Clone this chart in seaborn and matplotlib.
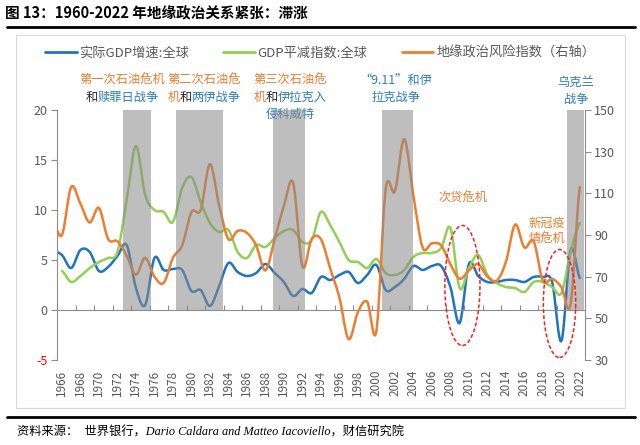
import numpy as np
import matplotlib
matplotlib.use("Agg")
import matplotlib.pyplot as plt
import seaborn as sns
from matplotlib.patches import Ellipse, Rectangle
from matplotlib.lines import Line2D
from matplotlib.offsetbox import TextArea, HPacker, AnnotationBbox

# values
years = list(range(1965, 2023))
gdp_growth = [5.9, 5.5, 4.2, 6.0, 5.8, 3.9, 4.3, 5.4, 6.5, 2.2,
              0.5, 5.2, 4.0, 4.1, 4.0, 1.9, 2.0, 0.4, 2.4, 4.7,
              3.8, 3.4, 3.7, 4.6, 3.7, 2.8, 1.4, 2.1, 1.7, 3.3,
              3.0, 3.5, 3.8, 2.7, 3.5, 4.5, 2.0, 2.3, 3.1, 4.4,
              4.0, 4.4, 4.4, 2.3, -1.3, 4.6, 3.4, 2.8, 2.8, 3.0,
              3.0, 2.8, 3.3, 3.3, 2.8, -3.1, 6.0, 3.2]
gpr_index = [97, 90, 113, 105, 96, 103, 88, 87, 80, 71,
             79, 70, 67, 79, 85, 101, 102, 124, 104, 88,
             92, 91, 85, 73, 88, 104, 115, 75, 88, 88,
             74, 60, 40, 53, 58, 44, 112, 111, 136, 109,
             84, 86, 85, 76, 69, 73, 76, 70, 68, 77,
             95, 84, 87, 68, 69, 65, 57, 113]
deflator_years = list(range(1966, 2023))
gdp_deflator = [3.9, 2.8, 3.4, 4.2, 4.8, 5.2, 5.8, 11.0, 16.4, 11.5,
                10.0, 9.8, 8.8, 12.2, 13.3, 10.8, 8.7, 7.8, 8.0, 5.8,
                5.2, 6.5, 6.3, 7.2, 7.9, 8.0, 6.8, 7.0, 9.8, 8.5,
                6.8, 5.0, 4.8, 4.2, 5.1, 3.7, 3.5, 4.0, 5.3, 5.7,
                5.7, 6.2, 8.2, 2.2, 4.2, 5.5, 3.5, 2.7, 2.3, 2.2,
                1.8, 2.8, 2.8, 2.3, 1.7, 5.8, 8.7]

shade_start = [1972.6, 1978.3, 1988.8, 2000.6, 2020.6]
shade_end = [1975.6, 1983.4, 1992.3, 2004.0, 2022.5]

label_years = list(range(1966, 2023, 2))

series_names = ["实际GDP增速:全球", "GDP平减指数:全球", "地缘政治风险指数（右轴）"]
colors = ["#1f74bd", "#92cf55", "#ed7d31"]
c_orange = "#ed7d31"
c_blue = "#2e7bc4"
c_dark = "#262626"


def smooth(x, y, n=20):
    # Catmull-Rom, similar to Excel's smoothed line
    x = np.asarray(x, float)
    y = np.asarray(y, float)
    px = np.concatenate([[x[0]], x, [x[-1]]])
    py = np.concatenate([[y[0]], y, [y[-1]]])
    px[0] = 2 * x[0] - x[1]
    px[-1] = 2 * x[-1] - x[-2]
    t = np.linspace(0, 1, n, endpoint=False)
    xs, ys = [], []
    for i in range(1, len(px) - 2):
        for P, out in ((px, xs), (py, ys)):
            p0, p1, p2, p3 = P[i - 1], P[i], P[i + 1], P[i + 2]
            out.append(0.5 * (2 * p1 + (-p0 + p2) * t
                              + (2 * p0 - 5 * p1 + 4 * p2 - p3) * t ** 2
                              + (-p0 + 3 * p1 - 3 * p2 + p3) * t ** 3))
    xs.append([x[-1]])
    ys.append([y[-1]])
    return np.concatenate(xs), np.concatenate(ys)


sns.set_style("white")
plt.rcParams["font.family"] = ["Noto Sans CJK SC", "DejaVu Sans"]
plt.rcParams["axes.unicode_minus"] = False

W, H = 640, 445


def fp(x, y):
    return x / W, 1 - y / H


fig = plt.figure(figsize=(6.4, 4.45), dpi=100)
ax = fig.add_axes([57.3 / W, 1 - 360 / H, (584.5 - 57.3) / W, 250 / H])
ax2 = ax.twinx()

sx, sy = smooth(years, gdp_growth)
sns.lineplot(x=sx, y=sy, ax=ax, color=colors[0], linewidth=1.8, sort=False, estimator=None)
sx, sy = smooth(deflator_years, gdp_deflator)
sns.lineplot(x=sx, y=sy, ax=ax, color=colors[1], linewidth=1.8, sort=False, estimator=None)
sx, sy = smooth(years, gpr_index)
sns.lineplot(x=sx, y=sy, ax=ax2, color=colors[2], linewidth=1.8, sort=False, estimator=None)

ax.set_xlim(1965.5, 2022.5)
ax.set_ylim(-5, 20)
ax2.set_ylim(30, 150)

# grey event bars, from 0 on the left axis up to the top
for s, e in zip(shade_start, shade_end):
    ax2.axvspan(s, e, ymin=0.2, ymax=1.0, color="#8a8a8a", alpha=0.55, lw=0, zorder=5)

# dashed circles around the two recessions
for cx, cy, w, h in [(2009.3, 2.45, 3.8, 12.0), (2019.8, 0.65, 3.5, 10.8)]:
    ax2.add_patch(Ellipse((cx, cy), w, h, transform=ax.transData, fill=False,
                          ec="#ff1a1a", ls=(0, (2.5, 1.5)), lw=1.1, zorder=6))

# axes styling
gray = "#8c8c8c"
for sp in ["top", "right"]:
    ax.spines[sp].set_visible(False)
for sp in ["top", "left", "bottom"]:
    ax2.spines[sp].set_visible(False)
ax.spines["left"].set_color(gray)
ax.spines["bottom"].set_color(gray)
ax.spines["bottom"].set_position(("data", 0))
ax2.spines["right"].set_color(gray)

ax.set_yticks([-5, 0, 5, 10, 15, 20])
ax.tick_params(axis="y", direction="out", length=4, width=0.8, color=gray,
               labelcolor="#595959", labelsize=9, pad=3, left=True)
ax.get_yticklabels()[0].set_color("#ff0000")
ax2.set_yticks([30, 50, 70, 90, 110, 130, 150])
ax2.tick_params(axis="y", direction="out", length=4, width=0.8, color=gray,
                labelcolor="#595959", labelsize=9, pad=3, right=True)

ax.set_xticks(np.arange(1965.5, 2022.6, 2))
ax.tick_params(axis="x", direction="in", length=3.5, width=0.8, color=gray,
               labelbottom=False, bottom=True)
sec = ax.secondary_xaxis("bottom")
sec.set_xticks(label_years)
sec.set_xticklabels([str(y) for y in label_years])
sec.tick_params(length=0, labelrotation=90, pad=7, labelcolor="#595959", labelsize=8.5)
sec.spines["bottom"].set_visible(False)
ax.set_xlabel("")
ax.set_ylabel("")
ax2.set_ylabel("")

# legend
handles = [Line2D([0], [0], color=c, lw=2) for c in colors]
fig.legend(handles, series_names, loc="center", bbox_to_anchor=fp(320, 53), ncol=3,
           frameon=False, fontsize=9.5, handlelength=2.4, handletextpad=0.2,
           columnspacing=2.6, labelcolor="#595959")


def rich(x, y, parts, size=8.8):
    boxes = [TextArea(s, textprops=dict(color=c, fontsize=size)) for s, c in parts]
    pack = HPacker(children=boxes, align="baseline", pad=0, sep=0)
    ab = AnnotationBbox(pack, fp(x, y), xycoords="figure fraction", frameon=False,
                        box_alignment=(0.5, 0.5), pad=0, annotation_clip=False)
    ax2.add_artist(ab)


rich(122, 80, [("第一次石油危机", c_orange)])
rich(122, 97, [("和", c_dark), ("赎罪日战争", c_blue)])
rich(204, 80, [("第二次石油危", c_orange)])
rich(204, 97, [("机", c_orange), ("和", c_dark), ("两伊战争", c_blue)])
rich(290, 80, [("第三次石油危", c_orange)])
rich(290, 97, [("机", c_orange), ("和", c_dark), ("伊拉克入", c_blue)])
rich(290, 114, [("侵科威特", c_blue)])
rich(396, 80, [("“9.11”和伊", c_blue)])
rich(396, 97, [("拉克战争", c_blue)])
rich(576, 82, [("乌克兰", c_blue)])
rich(576, 99, [("战争", c_blue)])
rich(463, 198, [("次贷危机", c_orange)])
rich(547, 223, [("新冠疫", c_orange)])
rich(547, 239, [("情危机", c_orange)])

# frame, title and source
fig.add_artist(Rectangle(fp(16, 408), (625 - 16) / W, (408 - 35) / H, transform=fig.transFigure,
                         fill=False, ec="#d9d9d9", lw=0.8))
fig.text(*fp(5, 13), "图 13：1960-2022 年地缘政治关系紧张：滞涨", fontsize=10.5,
         fontweight="bold", ha="left", va="center", color="black")
fig.add_artist(Line2D([7 / W, 635 / W], [1 - 27 / H] * 2, color="black", lw=2))
fig.add_artist(Line2D([7 / W, 635 / W], [1 - 417 / H] * 2, color="black", lw=2))
fig.text(*fp(17, 432), "资料来源：  世界银行，Dario Caldara and Matteo Iacoviello，财信研究院",
         fontsize=8.8, ha="left", va="center", color="black", style="italic",
         family=["Liberation Serif", "Noto Sans CJK SC"])

fig.savefig("out.png", dpi=100)
